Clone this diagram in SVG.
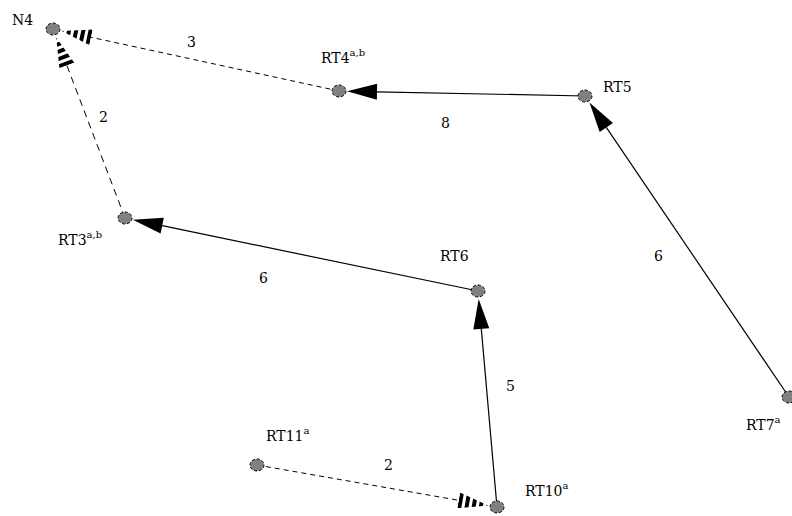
<svg xmlns="http://www.w3.org/2000/svg" width="792" height="516" viewBox="0 0 792 516">
<style>
text{font-family:"DejaVu Serif","Liberation Serif",serif;font-size:14px;fill:#000}
.sup{font-size:10px}
.node ellipse{fill:#808080;stroke:#000;stroke-width:1;stroke-dasharray:3 2}
.solid{stroke:#000;stroke-width:1.2;fill:none}
.dash{stroke:#000;stroke-width:1;fill:none;stroke-dasharray:5 4}
.dash2{stroke:#000;stroke-width:1;fill:none;stroke-dasharray:7 5}
</style>
<defs>
<clipPath id="tri"><polygon points="0,0 30,8 0,16"/></clipPath>
<marker id="ah" markerUnits="userSpaceOnUse" markerWidth="32" markerHeight="18" refX="0" refY="8" orient="auto" overflow="visible">
<polygon points="0,0 30,8 0,16" fill="#000"/>
</marker>
<marker id="ahd" markerUnits="userSpaceOnUse" markerWidth="32" markerHeight="18" refX="0" refY="8" orient="auto" overflow="visible">
<line x1="0" y1="8" x2="30" y2="8" stroke="#000" stroke-width="16" stroke-dasharray="4 3" clip-path="url(#tri)"/>
</marker>
</defs>
<g id="connectors">
<line class="dash" x1="339" y1="91" x2="91.1" y2="37.3" marker-end="url(#ahd)"/>
<line class="solid" x1="585" y1="96" x2="377" y2="91.8" marker-end="url(#ah)"/>
<line class="dash2" x1="125" y1="218" x2="66.9" y2="65.5" marker-end="url(#ahd)"/>
<line class="solid" x1="789" y1="397" x2="606.3" y2="127.4" marker-end="url(#ah)"/>
<line class="solid" x1="478" y1="291" x2="162.2" y2="225.7" marker-end="url(#ah)"/>
<line class="solid" x1="497" y1="507" x2="481.3" y2="328.9" marker-end="url(#ah)"/>
<line class="dash" x1="257" y1="465" x2="458.6" y2="500.3" marker-end="url(#ahd)"/>
<text x="187" y="47">3</text>
<text x="441" y="128">8</text>
<text x="99" y="122">2</text>
<text x="654" y="261">6</text>
<text x="259" y="283">6</text>
<text x="506" y="391">5</text>
<text x="384" y="470">2</text>
</g>
<g id="N4" class="node"><ellipse cx="53" cy="29" rx="7" ry="6"/><text x="12" y="25">N4</text></g>
<g id="RT4" class="node"><ellipse cx="339" cy="91" rx="7" ry="6"/><text x="321" y="63">RT4<tspan class="sup" dy="-7">a,b</tspan></text></g>
<g id="RT5" class="node"><ellipse cx="585" cy="96" rx="7" ry="6"/><text x="603" y="92">RT5</text></g>
<g id="RT3" class="node"><ellipse cx="125" cy="218" rx="7" ry="6"/><text x="58" y="245">RT3<tspan class="sup" dy="-7">a,b</tspan></text></g>
<g id="RT6" class="node"><ellipse cx="478" cy="291" rx="7" ry="6"/><text x="440" y="261">RT6</text></g>
<g id="RT11" class="node"><ellipse cx="257" cy="465" rx="7" ry="6"/><text x="266" y="441">RT11<tspan class="sup" dy="-7">a</tspan></text></g>
<g id="RT10" class="node"><ellipse cx="497" cy="507" rx="7" ry="6"/><text x="525" y="496">RT10<tspan class="sup" dy="-7">a</tspan></text></g>
<g id="RT7" class="node"><ellipse cx="789" cy="397" rx="7" ry="6"/><text x="746" y="430">RT7<tspan class="sup" dy="-7">a</tspan></text></g>
</svg>
